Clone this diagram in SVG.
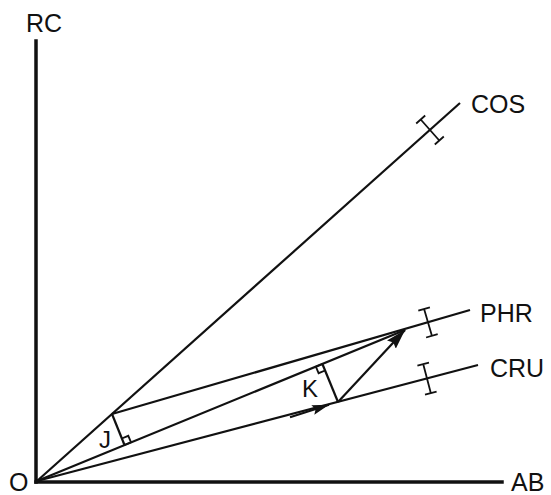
<svg xmlns="http://www.w3.org/2000/svg" width="551" height="495" viewBox="0 0 551 495">
<style>
.ax{stroke:#111;stroke-width:3.5;fill:none;stroke-linecap:square}
.ln{stroke:#111;stroke-width:2.2;fill:none}
.bar{stroke:#111;stroke-width:1.8;fill:none}
.t{font-family:"Liberation Sans",Arial,sans-serif;font-size:25px;fill:#111}
</style>
<defs>
<marker id="ah" markerUnits="userSpaceOnUse" markerWidth="17" markerHeight="11" refX="17" refY="5" orient="auto"><path d="M0,0 L17,5 L0,10 L3,5 z" fill="#111"/></marker>
<marker id="ahb" markerUnits="userSpaceOnUse" markerWidth="20" markerHeight="13" refX="20" refY="6" orient="auto"><path d="M0,0 L20,6 L0,12 L3,6 z" fill="#111"/></marker>
</defs>
<g id="axes">
<line class="ax" x1="36" y1="41" x2="36" y2="482"/>
<line class="ax" x1="36" y1="482" x2="502" y2="482"/>
</g>
<g id="connectors">
<line class="ln" x1="37" y1="481" x2="460" y2="103"/>
<line class="ln" x1="112" y1="414" x2="470" y2="310"/>
<line class="ln" x1="37" y1="481" x2="478" y2="365"/>
<line class="ln" x1="37" y1="481" x2="405" y2="330"/>
<line class="ln" x1="290" y1="417.2" x2="329" y2="404.8" marker-end="url(#ah)"/>
<line class="ln" x1="338" y1="402" x2="405" y2="330" marker-end="url(#ahb)"/>
<line class="ln" x1="112" y1="414" x2="124.5" y2="445"/>
<line class="ln" x1="338" y1="402" x2="322.4" y2="364"/>
<path class="bar" d="M124.5,445 l6.5,-2.7 l-2.7,-6.5 l-6.5,2.7"/>
<path class="bar" d="M322.4,364 l-6.5,2.7 l2.7,6.5 l6.5,-2.7"/>
</g>
<g id="errorbars">
<path class="bar" d="M420.7,119.5 L439.3,140.5 M416.2,123.5 L425.2,115.5 M434.8,144.5 L443.8,136.5"/>
<path class="bar" d="M424.1,309 L431.9,335.8 M418.3,310.7 L429.9,307.3 M426.1,337.5 L437.7,334.1"/>
<path class="bar" d="M423.2,364.1 L430.8,393.1 M417.4,365.6 L429,362.6 M425,394.6 L436.6,391.6"/>
</g>
<g id="labels">
<text class="t" x="9" y="491">O</text>
<text class="t" x="26" y="32">RC</text>
<text class="t" x="511" y="491">AB</text>
<text class="t" x="471" y="113">COS</text>
<text class="t" x="480" y="322">PHR</text>
<text class="t" x="490" y="377">CRU</text>
<text class="t" x="99" y="448" style="font-size:24px">J</text>
<text class="t" x="302" y="397" style="font-size:24px">K</text>
</g>
</svg>
